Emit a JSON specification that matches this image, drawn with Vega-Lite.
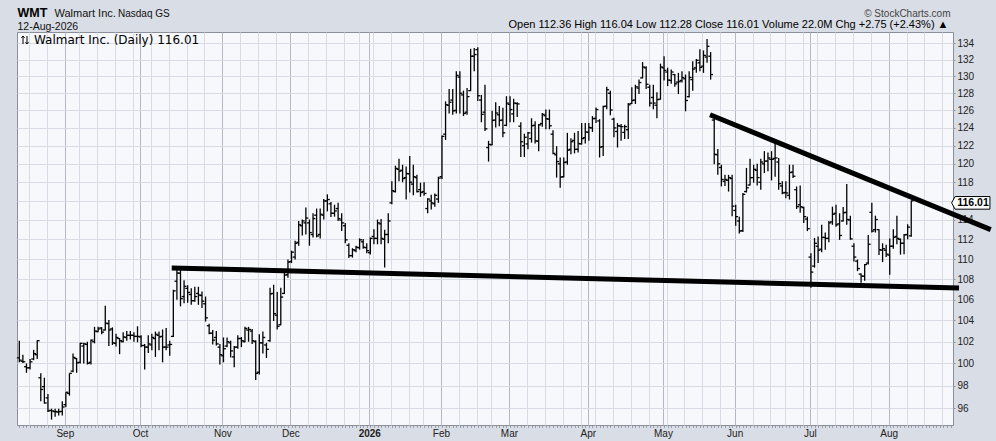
{
"$schema": "https://vega.github.io/schema/vega-lite/v6.json",
"width": 936,
"height": 393,
"autosize": {"type": "none"},
"padding": {"left": 17, "top": 32, "right": 43, "bottom": 16},
"background": "#d9dde5",
"config": {
  "view": {"fill": "#f7f8fc", "stroke": "#8a8f99", "strokeWidth": 1},
  "font": "Liberation Sans",
  "axis": {"labelFont": "Liberation Sans", "titleFont": "Liberation Sans"}
},
"datasets": {
"bars": [
{"d":0,"o":100.5,"h":102.1,"l":100.1,"c":100.3},
{"d":1,"o":100.2,"h":100.8,"l":100.05,"c":100.15},
{"d":2,"o":99.7,"h":100.0,"l":99.15,"c":99.6},
{"d":3,"o":99.6,"h":100.4,"l":99.45,"c":100.15},
{"d":4,"o":100.4,"h":101.25,"l":100.3,"c":100.9},
{"d":5,"o":100.8,"h":102.15,"l":100.4,"c":102.1},
{"d":6,"o":98.7,"h":99.1,"l":96.6,"c":97.65},
{"d":7,"o":97.9,"h":98.7,"l":96.4,"c":96.45},
{"d":8,"o":96.9,"h":97.25,"l":95.65,"c":95.75},
{"d":9,"o":95.8,"h":95.95,"l":95.0,"c":95.75},
{"d":10,"o":95.7,"h":95.95,"l":95.25,"c":95.7},
{"d":11,"o":95.65,"h":95.95,"l":95.35,"c":95.7},
{"d":12,"o":95.7,"h":96.6,"l":95.35,"c":96.1},
{"d":13,"o":96.3,"h":97.4,"l":96.1,"c":97.4},
{"d":14,"o":97.3,"h":99.1,"l":97.1,"c":99.1},
{"d":15,"o":99.3,"h":100.9,"l":99.2,"c":100.55},
{"d":16,"o":100.45,"h":100.5,"l":99.15,"c":100.05},
{"d":17,"o":100.1,"h":101.9,"l":100.0,"c":101.85},
{"d":18,"o":101.6,"h":101.9,"l":100.0,"c":101.8},
{"d":19,"o":101.75,"h":102.0,"l":99.9,"c":100.0},
{"d":20,"o":100.1,"h":102.2,"l":99.9,"c":102.15},
{"d":21,"o":102.0,"h":103.4,"l":101.85,"c":103.0},
{"d":22,"o":102.95,"h":103.4,"l":102.9,"c":103.2},
{"d":23,"o":103.3,"h":103.35,"l":102.7,"c":102.9},
{"d":24,"o":103.1,"h":105.4,"l":103.05,"c":103.75},
{"d":25,"o":103.7,"h":104.05,"l":101.6,"c":103.1},
{"d":26,"o":103.2,"h":103.35,"l":101.7,"c":101.9},
{"d":27,"o":101.85,"h":102.75,"l":101.55,"c":102.4},
{"d":28,"o":102.3,"h":102.35,"l":100.85,"c":102.1},
{"d":29,"o":102.0,"h":102.9,"l":101.95,"c":102.45},
{"d":30,"o":102.4,"h":103.0,"l":102.1,"c":102.6},
{"d":31,"o":102.6,"h":103.0,"l":102.2,"c":102.6},
{"d":32,"o":102.6,"h":102.9,"l":102.0,"c":102.5},
{"d":33,"o":102.5,"h":103.45,"l":101.95,"c":102.5},
{"d":34,"o":102.45,"h":102.6,"l":101.5,"c":101.65},
{"d":35,"o":101.65,"h":101.8,"l":99.45,"c":101.5},
{"d":36,"o":101.5,"h":102.6,"l":100.95,"c":101.8},
{"d":37,"o":101.7,"h":102.75,"l":101.2,"c":102.4},
{"d":38,"o":102.3,"h":102.95,"l":100.6,"c":102.7},
{"d":39,"o":102.6,"h":102.95,"l":101.2,"c":102.45},
{"d":40,"o":102.5,"h":103.15,"l":100.1,"c":101.5},
{"d":41,"o":101.5,"h":103.3,"l":101.2,"c":101.5},
{"d":42,"o":101.7,"h":102.1,"l":100.7,"c":101.75},
{"d":43,"o":102.5,"h":106.95,"l":102.45,"c":106.85},
{"d":44,"o":107.8,"h":109.15,"l":106.0,"c":108.6},
{"d":45,"o":108.6,"h":109.1,"l":105.35,"c":106.1},
{"d":46,"o":106.3,"h":107.9,"l":105.65,"c":107.3},
{"d":47,"o":107.1,"h":107.4,"l":105.7,"c":106.7},
{"d":48,"o":106.5,"h":107.1,"l":105.5,"c":105.9},
{"d":49,"o":105.9,"h":107.25,"l":105.8,"c":106.3},
{"d":50,"o":106.6,"h":107.25,"l":105.5,"c":106.45},
{"d":51,"o":106.4,"h":106.8,"l":105.2,"c":105.85},
{"d":52,"o":105.6,"h":106.3,"l":103.9,"c":104.25},
{"d":53,"o":103.5,"h":103.7,"l":102.7,"c":102.8},
{"d":54,"o":102.8,"h":103.1,"l":101.75,"c":102.15},
{"d":55,"o":102.4,"h":103.0,"l":101.65,"c":101.8},
{"d":56,"o":101.5,"h":101.8,"l":99.9,"c":100.8},
{"d":57,"o":100.7,"h":102.4,"l":100.1,"c":101.35},
{"d":58,"o":101.6,"h":102.4,"l":101.5,"c":102.0},
{"d":59,"o":101.9,"h":102.1,"l":100.55,"c":101.15},
{"d":60,"o":100.6,"h":101.6,"l":99.65,"c":101.5},
{"d":61,"o":101.5,"h":102.6,"l":101.35,"c":102.3},
{"d":62,"o":102.3,"h":102.45,"l":101.5,"c":102.1},
{"d":63,"o":102.0,"h":103.4,"l":101.95,"c":103.25},
{"d":64,"o":103.1,"h":103.4,"l":102.0,"c":103.15},
{"d":65,"o":103.0,"h":103.2,"l":101.8,"c":102.1},
{"d":66,"o":102.0,"h":102.15,"l":98.5,"c":99.1},
{"d":67,"o":99.2,"h":102.7,"l":99.0,"c":101.9},
{"d":68,"o":101.9,"h":102.95,"l":100.9,"c":102.4},
{"d":69,"o":101.7,"h":101.9,"l":100.5,"c":101.3},
{"d":70,"o":102.1,"h":107.15,"l":102.0,"c":106.55},
{"d":71,"o":106.6,"h":107.45,"l":103.95,"c":104.65},
{"d":72,"o":104.5,"h":106.75,"l":103.15,"c":103.45},
{"d":73,"o":103.6,"h":107.15,"l":103.55,"c":106.25},
{"d":74,"o":106.6,"h":108.75,"l":106.55,"c":108.4},
{"d":75,"o":108.45,"h":109.95,"l":108.15,"c":109.7},
{"d":76,"o":109.75,"h":110.85,"l":109.6,"c":110.7},
{"d":77,"o":110.2,"h":111.85,"l":109.95,"c":111.6},
{"d":78,"o":111.7,"h":113.9,"l":111.35,"c":113.5},
{"d":79,"o":113.4,"h":114.05,"l":112.4,"c":113.9},
{"d":80,"o":113.7,"h":115.3,"l":112.5,"c":114.2},
{"d":81,"o":113.7,"h":114.05,"l":111.35,"c":112.7},
{"d":82,"o":112.5,"h":114.7,"l":112.2,"c":114.15},
{"d":83,"o":114.5,"h":115.2,"l":112.2,"c":112.35},
{"d":84,"o":112.5,"h":115.2,"l":112.1,"c":114.6},
{"d":85,"o":114.5,"h":116.2,"l":114.05,"c":116.0},
{"d":86,"o":116.0,"h":116.7,"l":114.9,"c":116.15},
{"d":87,"o":115.7,"h":115.9,"l":114.3,"c":114.7},
{"d":88,"o":114.7,"h":115.6,"l":114.35,"c":114.95},
{"d":89,"o":115.2,"h":115.8,"l":113.9,"c":114.15},
{"d":90,"o":114.0,"h":114.7,"l":112.85,"c":113.7},
{"d":91,"o":113.4,"h":113.7,"l":111.6,"c":111.95},
{"d":92,"o":111.4,"h":111.6,"l":110.1,"c":110.35},
{"d":93,"o":110.35,"h":111.1,"l":110.15,"c":110.95},
{"d":94,"o":110.85,"h":111.35,"l":110.7,"c":111.2},
{"d":95,"o":111.15,"h":112.1,"l":110.95,"c":111.95},
{"d":96,"o":111.75,"h":112.05,"l":111.05,"c":111.2},
{"d":97,"o":111.15,"h":111.6,"l":110.6,"c":110.85},
{"d":98,"o":110.65,"h":112.2,"l":110.45,"c":112.1},
{"d":99,"o":112.3,"h":113.05,"l":111.5,"c":112.1},
{"d":100,"o":112.1,"h":114.05,"l":111.5,"c":113.7},
{"d":101,"o":113.6,"h":114.1,"l":111.5,"c":112.1},
{"d":102,"o":112.0,"h":113.0,"l":109.15,"c":112.5},
{"d":103,"o":112.5,"h":114.7,"l":111.6,"c":113.9},
{"d":104,"o":115.8,"h":118.1,"l":115.65,"c":117.1},
{"d":105,"o":117.0,"h":119.8,"l":116.9,"c":119.5},
{"d":106,"o":119.4,"h":120.55,"l":118.1,"c":119.2},
{"d":107,"o":119.3,"h":119.9,"l":118.0,"c":118.4},
{"d":108,"o":118.5,"h":119.7,"l":116.15,"c":118.95},
{"d":109,"o":118.9,"h":120.85,"l":116.9,"c":118.0},
{"d":110,"o":117.8,"h":119.9,"l":116.6,"c":118.6},
{"d":111,"o":118.5,"h":118.8,"l":116.9,"c":117.0},
{"d":112,"o":117.2,"h":117.95,"l":116.45,"c":116.9},
{"d":113,"o":117.0,"h":118.0,"l":116.55,"c":116.8},
{"d":114,"o":115.2,"h":116.3,"l":114.7,"c":116.2},
{"d":115,"o":116.0,"h":116.65,"l":115.1,"c":115.8},
{"d":116,"o":115.7,"h":116.8,"l":115.4,"c":116.6},
{"d":117,"o":116.2,"h":118.6,"l":115.8,"c":118.45},
{"d":118,"o":118.6,"h":123.15,"l":118.35,"c":123.05},
{"d":119,"o":123.3,"h":127.05,"l":122.65,"c":126.65},
{"d":120,"o":126.6,"h":128.5,"l":125.65,"c":126.95},
{"d":121,"o":127.2,"h":128.5,"l":125.5,"c":125.95},
{"d":122,"o":126.0,"h":130.6,"l":125.65,"c":130.1},
{"d":123,"o":129.9,"h":130.6,"l":125.65,"c":128.0},
{"d":124,"o":127.8,"h":128.3,"l":125.35,"c":125.65},
{"d":125,"o":125.8,"h":128.6,"l":125.5,"c":127.6},
{"d":126,"o":128.3,"h":133.3,"l":128.25,"c":132.4},
{"d":127,"o":132.4,"h":133.4,"l":130.6,"c":132.6},
{"d":128,"o":133.2,"h":133.5,"l":127.1,"c":127.7},
{"d":129,"o":127.2,"h":127.8,"l":124.65,"c":125.55},
{"d":130,"o":125.8,"h":129.0,"l":123.65,"c":123.9},
{"d":131,"o":121.8,"h":122.55,"l":120.25,"c":122.15},
{"d":132,"o":122.1,"h":125.95,"l":122.05,"c":124.85},
{"d":133,"o":124.9,"h":126.95,"l":124.05,"c":125.7},
{"d":134,"o":125.5,"h":126.5,"l":124.2,"c":124.85},
{"d":135,"o":124.9,"h":126.3,"l":122.95,"c":123.45},
{"d":136,"o":124.3,"h":127.65,"l":124.2,"c":126.85},
{"d":137,"o":126.7,"h":127.65,"l":124.65,"c":126.1},
{"d":138,"o":125.6,"h":127.35,"l":124.65,"c":126.85},
{"d":139,"o":126.8,"h":126.95,"l":125.25,"c":126.75},
{"d":140,"o":124.2,"h":124.65,"l":120.75,"c":122.45},
{"d":141,"o":122.0,"h":123.35,"l":120.75,"c":122.95},
{"d":142,"o":122.2,"h":123.55,"l":121.6,"c":123.45},
{"d":143,"o":122.8,"h":125.1,"l":122.35,"c":124.25},
{"d":144,"o":124.3,"h":124.75,"l":122.25,"c":122.55},
{"d":145,"o":122.5,"h":124.45,"l":121.4,"c":124.35},
{"d":146,"o":124.5,"h":125.7,"l":124.15,"c":125.55},
{"d":147,"o":125.4,"h":126.1,"l":123.85,"c":125.05},
{"d":148,"o":125.0,"h":126.1,"l":123.85,"c":124.25},
{"d":149,"o":123.3,"h":123.75,"l":121.05,"c":121.15},
{"d":150,"o":121.0,"h":121.95,"l":118.5,"c":120.25},
{"d":151,"o":120.0,"h":120.7,"l":117.4,"c":118.55},
{"d":152,"o":118.6,"h":120.7,"l":118.5,"c":120.15},
{"d":153,"o":120.2,"h":123.45,"l":119.9,"c":121.5},
{"d":154,"o":121.6,"h":122.85,"l":121.05,"c":122.45},
{"d":155,"o":122.6,"h":123.45,"l":121.15,"c":121.6},
{"d":156,"o":121.6,"h":123.65,"l":121.25,"c":122.25},
{"d":157,"o":122.2,"h":124.55,"l":122.15,"c":122.8},
{"d":158,"o":122.9,"h":124.55,"l":122.25,"c":123.55},
{"d":159,"o":123.5,"h":124.55,"l":122.55,"c":124.05},
{"d":160,"o":124.0,"h":125.35,"l":123.55,"c":125.05},
{"d":161,"o":125.1,"h":126.35,"l":124.55,"c":126.1},
{"d":162,"o":124.8,"h":125.0,"l":120.7,"c":121.85},
{"d":163,"o":121.9,"h":126.55,"l":120.85,"c":126.45},
{"d":164,"o":126.5,"h":128.75,"l":126.15,"c":128.4},
{"d":165,"o":128.0,"h":128.3,"l":125.45,"c":126.05},
{"d":166,"o":125.0,"h":125.15,"l":122.95,"c":124.0},
{"d":167,"o":123.6,"h":124.55,"l":121.8,"c":124.25},
{"d":168,"o":124.2,"h":124.45,"l":122.55,"c":124.15},
{"d":169,"o":123.5,"h":124.35,"l":122.75,"c":124.15},
{"d":170,"o":123.8,"h":126.85,"l":122.75,"c":126.65},
{"d":171,"o":126.8,"h":128.7,"l":126.75,"c":127.15},
{"d":172,"o":127.2,"h":129.0,"l":126.75,"c":128.75},
{"d":173,"o":128.6,"h":129.6,"l":127.9,"c":129.25},
{"d":174,"o":129.8,"h":131.7,"l":129.75,"c":131.1},
{"d":175,"o":131.0,"h":131.2,"l":128.5,"c":129.05},
{"d":176,"o":128.7,"h":129.0,"l":126.45,"c":126.85},
{"d":177,"o":127.5,"h":129.0,"l":126.15,"c":126.85},
{"d":178,"o":126.6,"h":128.1,"l":125.1,"c":127.25},
{"d":179,"o":127.3,"h":131.5,"l":127.25,"c":131.1},
{"d":180,"o":131.0,"h":132.4,"l":129.5,"c":130.7},
{"d":181,"o":130.5,"h":131.0,"l":128.85,"c":129.55},
{"d":182,"o":129.5,"h":130.8,"l":129.1,"c":130.5},
{"d":183,"o":130.2,"h":130.25,"l":128.75,"c":129.1},
{"d":184,"o":129.3,"h":130.4,"l":127.9,"c":129.35},
{"d":185,"o":129.5,"h":130.6,"l":129.25,"c":129.85},
{"d":186,"o":129.7,"h":130.2,"l":125.9,"c":127.15},
{"d":187,"o":127.6,"h":130.6,"l":127.5,"c":129.85},
{"d":188,"o":129.6,"h":131.8,"l":128.3,"c":130.85},
{"d":189,"o":131.0,"h":132.05,"l":130.4,"c":131.9},
{"d":190,"o":131.6,"h":133.25,"l":130.6,"c":131.05},
{"d":191,"o":131.2,"h":133.1,"l":130.4,"c":132.5},
{"d":192,"o":132.3,"h":134.5,"l":131.6,"c":133.6},
{"d":193,"o":132.4,"h":132.9,"l":129.6,"c":130.2},
{"d":194,"o":124.9,"h":125.5,"l":119.95,"c":121.05},
{"d":195,"o":121.0,"h":121.65,"l":118.8,"c":120.0},
{"d":196,"o":119.6,"h":119.9,"l":117.55,"c":118.3},
{"d":197,"o":118.1,"h":118.8,"l":117.6,"c":118.3},
{"d":198,"o":118.2,"h":118.8,"l":117.0,"c":118.5},
{"d":199,"o":118.4,"h":118.8,"l":114.4,"c":115.45},
{"d":200,"o":115.0,"h":115.6,"l":113.4,"c":114.35},
{"d":201,"o":113.9,"h":114.35,"l":112.6,"c":112.85},
{"d":202,"o":112.9,"h":116.85,"l":112.75,"c":116.7},
{"d":203,"o":117.0,"h":119.55,"l":116.9,"c":117.4},
{"d":204,"o":117.7,"h":120.55,"l":117.65,"c":118.5},
{"d":205,"o":118.5,"h":119.9,"l":117.95,"c":119.4},
{"d":206,"o":119.3,"h":120.0,"l":117.65,"c":118.5},
{"d":207,"o":118.0,"h":120.55,"l":117.2,"c":120.2},
{"d":208,"o":120.0,"h":121.4,"l":119.0,"c":120.3},
{"d":209,"o":120.3,"h":121.25,"l":119.2,"c":120.65},
{"d":210,"o":120.5,"h":121.4,"l":118.2,"c":120.5},
{"d":211,"o":120.6,"h":122.55,"l":118.6,"c":120.65},
{"d":212,"o":120.2,"h":120.65,"l":117.2,"c":117.85},
{"d":213,"o":117.6,"h":118.1,"l":116.7,"c":116.85},
{"d":214,"o":116.9,"h":118.1,"l":116.3,"c":116.85},
{"d":215,"o":116.6,"h":119.9,"l":116.15,"c":119.05},
{"d":216,"o":119.1,"h":119.9,"l":118.45,"c":118.65},
{"d":217,"o":117.2,"h":117.55,"l":115.15,"c":115.4},
{"d":218,"o":115.6,"h":117.65,"l":114.75,"c":115.4},
{"d":219,"o":115.3,"h":115.4,"l":113.7,"c":114.35},
{"d":220,"o":114.1,"h":114.35,"l":112.85,"c":113.1},
{"d":221,"o":110.2,"h":110.6,"l":107.15,"c":108.7},
{"d":222,"o":109.3,"h":112.15,"l":109.15,"c":111.6},
{"d":223,"o":111.3,"h":112.3,"l":109.6,"c":110.9},
{"d":224,"o":111.0,"h":113.5,"l":110.7,"c":112.2},
{"d":225,"o":112.2,"h":112.7,"l":110.95,"c":112.1},
{"d":226,"o":112.1,"h":113.9,"l":111.7,"c":113.7},
{"d":227,"o":113.8,"h":115.4,"l":113.5,"c":114.6},
{"d":228,"o":114.7,"h":115.6,"l":113.3,"c":113.5},
{"d":229,"o":113.6,"h":114.7,"l":111.95,"c":112.4},
{"d":230,"o":113.9,"h":115.35,"l":113.85,"c":114.75},
{"d":231,"o":114.8,"h":117.8,"l":113.5,"c":114.05},
{"d":232,"o":114.0,"h":114.45,"l":111.95,"c":112.05},
{"d":233,"o":111.3,"h":111.6,"l":109.75,"c":110.2},
{"d":234,"o":109.8,"h":109.95,"l":108.8,"c":109.05},
{"d":235,"o":108.5,"h":108.55,"l":107.65,"c":108.3},
{"d":236,"o":108.3,"h":109.5,"l":107.85,"c":109.45},
{"d":237,"o":109.6,"h":112.45,"l":109.45,"c":111.5},
{"d":238,"o":114.8,"h":115.8,"l":112.7,"c":112.85},
{"d":239,"o":113.0,"h":114.45,"l":112.7,"c":114.05},
{"d":240,"o":113.0,"h":113.05,"l":110.4,"c":110.95},
{"d":241,"o":110.9,"h":111.6,"l":109.7,"c":111.05},
{"d":242,"o":110.9,"h":111.45,"l":110.2,"c":110.5},
{"d":243,"o":110.4,"h":112.1,"l":108.45,"c":111.3},
{"d":244,"o":111.3,"h":113.05,"l":111.05,"c":112.2},
{"d":245,"o":112.3,"h":114.45,"l":111.5,"c":112.1},
{"d":246,"o":112.0,"h":112.1,"l":110.45,"c":111.6},
{"d":247,"o":111.6,"h":112.55,"l":110.5,"c":112.45},
{"d":248,"o":112.5,"h":113.55,"l":112.0,"c":113.26},
{"d":249,"o":112.36,"h":116.04,"l":112.28,"c":116.01}
],
"trend": [
{"line":"upper","d":192.83,"p":125.51},
{"line":"upper","d":271.19,"p":113.0},
{"line":"lower","d":42.55,"p":109.11},
{"line":"lower","d":262.34,"p":107.14}
]
},
"data": {"name": "bars"},
"resolve": {"axis": {"x": "independent", "y": "independent"}},
"layer": [
{
  "mark": {"type": "rule", "strokeWidth": 1.3},
  "encoding": {
    "x": {"field": "d", "type": "quantitative",
      "scale": {"domain": [-0.642, 260.66], "nice": false, "zero": false},
      "axis": {"orient": "bottom",
        "values": [12.7, 33.7, 56.7, 75.7, 97.7, 117.7, 136.7, 158.7, 179.7, 199.7, 220.7, 242.7],
        "labelExpr": "datum.value < 20 ? 'Sep' : datum.value < 45 ? 'Oct' : datum.value < 65 ? 'Nov' : datum.value < 90 ? 'Dec' : datum.value < 105 ? '2026' : datum.value < 125 ? 'Feb' : datum.value < 150 ? 'Mar' : datum.value < 170 ? 'Apr' : datum.value < 190 ? 'May' : datum.value < 210 ? 'Jun' : datum.value < 230 ? 'Jul' : 'Aug'",
        "labelFontWeight": {"condition": {"test": "datum.value > 90 && datum.value < 100", "value": "bold"}, "value": "normal"},
        "grid": true, "gridColor": "#b5b9c3", "gridWidth": 1,
        "ticks": false, "domain": false,
        "labelFontSize": 10, "labelColor": "#222222", "labelPadding": 3, "labelDx": 1,
        "labelOverlap": false, "labelFlush": false, "labelBound": false,
        "title": "WMT", "titleX": 0, "titleY": -408.5, "titleAlign": "left", "titleBaseline": "alphabetic",
        "titleFontSize": 12.5, "titleFontWeight": "bold", "titleColor": "#000000"}},
    "y": {"field": "l", "type": "quantitative",
      "scale": {"type": "log", "domain": [94.53, 135.36], "nice": false},
      "axis": {"orient": "right",
        "values": [96,98,100,102,104,106,108,110,112,114,116,118,120,122,124,126,128,130,132,134],
        "format": "d", "labelExpr": "datum.value == 116 ? '' : datum.label",
        "grid": true, "gridColor": "#d9dce4", "gridWidth": 1, "ticks": true, "tickSize": 2, "tickColor": "#8a8f99",
        "labelPadding": 2, "domain": false, "labels": true, "labelFontSize": 10, "labelColor": "#222222",
        "labelOverlap": false, "labelBound": false, "labelFlush": false, "title": null}},
    "y2": {"field": "h"},
    "color": {"datum": "Walmart Inc. (Daily) 116.01", "type": "nominal",
      "scale": {"range": ["#000000"]},
      "legend": {"orient": "top-left", "title": null, "offset": 2, "padding": 0,
        "symbolType": "M-0.5,1V-1M-0.9,-0.55L-0.5,-1L-0.1,-0.55M0.5,-1V1M0.1,0.55L0.5,1L0.9,0.55",
        "symbolSize": 64, "symbolStrokeWidth": 1, "symbolStrokeColor": "#000000",
        "labelFont": "DejaVu Sans", "labelFontSize": 12, "labelColor": "#000000", "labelOffset": 3, "labelLimit": 400}}
  }
},
{
  "mark": {"type": "tick", "orient": "horizontal", "size": 2.4, "thickness": 1.3, "xOffset": -1.2, "color": "#000000", "opacity": 1},
  "encoding": {
    "x": {"field": "d", "type": "quantitative",
      "scale": {"domain": [-0.642, 260.66], "nice": false, "zero": false},
      "axis": {"orient": "bottom",
        "values": [2.7, 7.7, 16.7, 21.7, 26.7, 31.7, 36.7, 41.7, 46.7, 51.7, 61.7, 66.7, 71.7, 80.7, 85.7, 90.7, 94.7, 98.7, 103.7, 108.7, 112.7, 122.7, 127.7, 131.7, 141.7, 146.7, 151.7, 156.7, 160.7, 165.7, 170.7, 175.7, 180.7, 185.7, 190.7, 195.7, 204.7, 209.7, 213.7, 218.7, 222.7, 227.7, 232.7, 237.7, 247.7, 252.7, 257.7],
        "grid": true, "gridColor": "#d9dce4", "gridWidth": 1,
        "ticks": false, "labels": false, "domain": false,
        "title": "12-Aug-2026", "titleX": 0, "titleY": -396, "titleAlign": "left", "titleBaseline": "alphabetic",
        "titleFontSize": 10.5, "titleFontWeight": "normal", "titleColor": "#111111"}},
    "y": {"field": "o", "type": "quantitative",
      "scale": {"type": "log", "domain": [94.53, 135.36], "nice": false}, "axis": null}
  }
},
{
  "mark": {"type": "tick", "orient": "horizontal", "size": 2.4, "thickness": 1.3, "xOffset": 1.2, "color": "#000000", "opacity": 1},
  "encoding": {
    "x": {"field": "d", "type": "quantitative",
      "scale": {"domain": [-0.642, 260.66], "nice": false, "zero": false},
      "axis": {"orient": "bottom", "tickCount": 262,
        "grid": false, "labels": false, "domain": false,
        "ticks": true, "tickSize": 2.5, "tickColor": "#8a8f99", "tickWidth": 0.8,
        "title": "Walmart Inc.", "titleX": 37, "titleY": -408.5, "titleAlign": "left", "titleBaseline": "alphabetic",
        "titleFontSize": 11, "titleFontWeight": "normal", "titleColor": "#111111"}},
    "y": {"field": "c", "type": "quantitative",
      "scale": {"type": "log", "domain": [94.53, 135.36], "nice": false}, "axis": null}
  }
},
{
  "data": {"name": "trend"},
  "mark": {"type": "line", "strokeWidth": 5, "color": "#000000", "clip": false, "strokeCap": "butt"},
  "encoding": {
    "x": {"field": "d", "type": "quantitative",
      "scale": {"domain": [-0.642, 260.66], "nice": false, "zero": false},
      "axis": {"orient": "top", "grid": false, "labels": false, "ticks": false, "domain": false,
        "title": "Open 112.36 High 116.04 Low 112.28 Close 116.01 Volume 22.0M Chg +2.75 (+2.43%) ▲",
        "titleX": 931, "titleY": -4.6, "titleAlign": "right", "titleBaseline": "alphabetic",
        "titleFontSize": 11, "titleFontWeight": "normal", "titleColor": "#000000"}},
    "y": {"field": "p", "type": "quantitative",
      "scale": {"type": "log", "domain": [94.53, 135.36], "nice": false}, "axis": null},
    "detail": {"field": "line", "type": "nominal"}
  }
},
{
  "transform": [{"filter": "datum.d == 249"}],
  "mark": {"type": "point", "shape": "M-1,0L-0.82,-0.33L1,-0.33L1,0.33L-0.82,0.33Z", "size": 1467,
    "filled": true, "fill": "#ffffff", "stroke": "#000000", "strokeWidth": 1, "opacity": 1,
    "xOffset": 59.55, "yOffset": 2},
  "encoding": {
    "x": {"field": "d", "type": "quantitative",
      "scale": {"domain": [-0.642, 260.66], "nice": false, "zero": false},
      "axis": {"orient": "top", "grid": false, "labels": false, "ticks": false, "domain": false,
        "title": "© StockCharts.com", "titleX": 933, "titleY": -15.5, "titleAlign": "right", "titleBaseline": "alphabetic",
        "titleFontSize": 10, "titleFontWeight": "normal", "titleColor": "#444444"}},
    "y": {"field": "c", "type": "quantitative",
      "scale": {"type": "log", "domain": [94.53, 135.36], "nice": false}, "axis": null}
  }
},
{
  "transform": [{"filter": "datum.d == 249"}],
  "mark": {"type": "text", "font": "Liberation Sans", "fontWeight": "bold", "fontSize": 10.5, "align": "center", "baseline": "middle",
    "xOffset": 61.75, "yOffset": 2.5, "color": "#000000"},
  "encoding": {
    "x": {"field": "d", "type": "quantitative",
      "scale": {"domain": [-0.642, 260.66], "nice": false, "zero": false},
      "axis": {"orient": "top", "grid": false, "labels": false, "ticks": false, "domain": false,
        "title": "Nasdaq GS", "titleX": 100.5, "titleY": -15.5, "titleAlign": "left", "titleBaseline": "alphabetic",
        "titleFontSize": 10, "titleFontWeight": "normal", "titleColor": "#111111"}},
    "y": {"field": "c", "type": "quantitative",
      "scale": {"type": "log", "domain": [94.53, 135.36], "nice": false}, "axis": null},
    "text": {"field": "c", "type": "quantitative", "format": ".2f"}
  }
}
]
}
